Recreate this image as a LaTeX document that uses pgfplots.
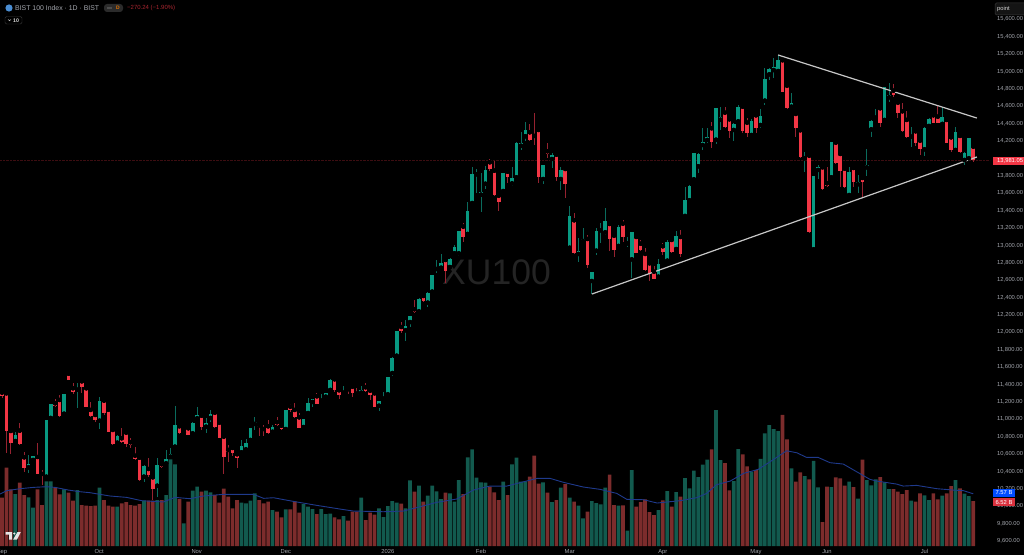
\documentclass[border=0pt]{standalone}
\usepackage{pgfplots}
\usepackage{pgfplotstable}
\usepackage{fontspec}
\setmainfont{Liberation Sans}
\pgfplotsset{compat=1.18}
\definecolor{upc}{HTML}{089981}
\definecolor{dnc}{HTML}{F23645}
\definecolor{upw}{HTML}{0A6B5D}
\definecolor{dnw}{HTML}{962230}
\definecolor{vup}{HTML}{125A4E}
\definecolor{vdn}{HTML}{7C2C2C}
\definecolor{vma}{HTML}{1F3A8C}
\definecolor{txt}{HTML}{A3A6AD}
\pgfplotstableread{
i o h l c v
0 11306 11317 11241 11271 7.00
1 11298 11306 10608 10865 11.35
2 10865 10865 10601 10723 8.21
3 10750 10857 10723 10819 7.53
4 10869 10953 10704 10716 9.18
5 10562 10627 10397 10436 7.39
6 10447 10589 10386 10482 7.05
7 10532 10578 10512 10578 5.55
8 10566 10723 10371 10371 8.21
9 10371 10417 10244 10363 5.94
10 10340 10992 10340 10992 9.37
11 11015 11176 10992 11176 9.37
12 11183 11229 11137 11153 8.50
13 11222 11279 11022 11034 7.49
14 11064 11287 11064 11287 8.21
15 11524 11524 11452 11452 7.73
16 11356 11421 11291 11317 6.57
17 11340 11413 11126 11356 8.11
18 11436 11452 11298 11367 5.94
19 11356 11356 11137 11137 5.84
20 11107 11202 11030 11038 5.80
21 11049 11049 10972 10995 5.84
22 10984 11252 10884 11214 8.45
23 11214 11229 11049 11068 6.67
24 11110 11110 10850 10850 5.84
25 10877 10877 10704 10716 5.70
26 10731 10819 10704 10804 5.70
27 10781 10896 10723 10742 6.18
28 10846 10857 10685 10716 6.38
29 10735 10781 10666 10708 5.94
30 10581 10685 10532 10543 5.84
31 10558 10578 10294 10306 6.09
32 10340 10474 10282 10459 6.57
33 10428 10551 10340 10355 6.57
34 10332 10340 10072 10198 6.57
35 10236 10551 10110 10474 6.67
36 10482 10512 10436 10451 6.67
37 10493 10647 10474 10539 7.39
38 10570 10666 10551 10601 12.56
39 10685 11153 10666 10934 11.83
40 10919 10934 10831 10838 6.81
41 10850 10869 10846 10865 3.28
42 10896 10915 10815 10823 6.42
43 10838 10972 10819 10961 8.02
44 11011 11145 11011 11053 8.60
45 11041 11049 10877 10907 7.87
46 10915 11011 10838 10961 8.02
47 11015 11107 10972 11064 7.78
48 11076 11076 10896 10915 7.39
49 10961 10961 10781 10781 6.28
50 10800 10808 10367 10570 8.31
51 10647 10704 10512 10627 7.15
52 10670 10685 10578 10608 5.46
53 10597 10597 10436 10555 6.67
54 10620 10762 10608 10693 6.28
55 10654 10769 10639 10723 6.18
56 10762 10900 10742 10896 6.57
57 10946 11030 10877 10972 7.63
58 10930 10930 10808 10911 6.67
59 10888 10934 10808 10880 6.18
60 10919 10992 10831 10838 6.42
61 10857 10934 10854 10911 5.22
62 10965 11022 10923 10934 4.97
63 10926 10934 10877 10888 4.15
64 10888 11110 10869 11110 5.31
65 11145 11176 11087 11107 5.31
66 11107 11191 11011 11022 6.47
67 11022 11068 10896 10903 4.83
68 10911 11003 10907 10999 6.09
69 11072 11241 11068 11183 5.70
70 11199 11237 11145 11229 5.36
71 11264 11306 11172 11179 4.64
72 11214 11287 11202 11222 5.36
73 11260 11306 11252 11306 4.64
74 11337 11459 11329 11448 4.69
75 11459 11459 11310 11337 4.15
76 11333 11356 11233 11275 3.86
77 11306 11383 11298 11325 4.35
78 11344 11344 11291 11333 3.67
79 11375 11390 11260 11298 4.97
80 11294 11356 11268 11279 4.97
81 11306 11383 11298 11333 7.00
82 11367 11413 11317 11325 3.77
83 11329 11329 11222 11279 4.83
84 11298 11298 11137 11137 4.54
85 11156 11210 11099 11210 5.46
86 11237 11310 11229 11252 4.20
87 11287 11490 11287 11490 5.80
88 11532 11712 11498 11701 6.52
89 11731 12019 11731 12019 6.28
90 12061 12115 11988 12015 6.13
91 12023 12141 11904 12076 5.46
92 12118 12187 12057 12187 9.52
93 12264 12372 12226 12237 7.87
94 12241 12391 12234 12379 8.74
95 12418 12441 12352 12356 6.42
96 12341 12468 12287 12452 7.29
97 12468 12659 12468 12659 8.74
98 12728 12832 12686 12736 7.92
99 12743 12901 12724 12797 6.81
100 12832 12832 12563 12709 7.73
101 12751 12851 12743 12843 7.63
102 12908 13004 12901 12981 6.42
103 12908 13169 12881 13169 9.56
104 13215 13253 13042 13096 7.53
105 13131 13502 13131 13399 12.85
106 13487 13897 13476 13821 14.01
107 13817 13874 13598 13836 9.90
108 13583 13828 13387 13610 9.23
109 13709 13913 13648 13867 9.18
110 13955 13989 13859 13874 8.60
111 13859 13974 13568 13579 7.78
112 13571 13579 13399 13502 6.67
113 13625 13836 13617 13828 9.32
114 13847 13867 13721 13782 7.39
115 13713 13905 13683 13775 11.83
116 13782 14185 13771 14173 12.80
117 14146 14307 14097 14173 9.32
118 14254 14422 14204 14330 9.37
119 14300 14396 14204 14215 10.05
120 14258 14518 14154 14250 13.09
121 14327 14327 13721 13790 9.03
122 13763 13924 13706 13924 9.23
123 14081 14181 14001 14047 7.73
124 13993 14058 13886 14039 6.38
125 14043 14043 13740 13790 6.67
126 13763 13897 13637 13867 8.45
127 13878 13886 13541 13706 8.98
128 12973 13453 12966 13338 7.00
129 13288 13368 12901 12916 6.42
130 12901 13081 12812 12935 5.84
131 13050 13196 13042 13069 4.01
132 13073 13119 12736 12778 4.97
133 12590 12694 12441 12694 6.52
134 12939 13196 12889 13169 6.23
135 13173 13261 13023 13192 6.04
136 13150 13426 13119 13276 8.45
137 13246 13246 12939 13073 10.34
138 13111 13111 12870 12947 5.94
139 12993 13234 12985 13211 5.84
140 13249 13292 13042 13100 5.89
141 13023 13100 12985 13039 2.22
142 12839 13157 12621 13157 11.01
143 13096 13108 12908 12916 5.70
144 13019 13062 12939 12950 6.38
145 12901 12966 12705 12713 6.76
146 12793 12793 12594 12667 4.93
147 12697 12763 12609 12617 4.49
148 12640 12839 12632 12782 5.22
149 12989 13023 12889 12924 6.62
150 12824 13062 12812 13042 7.97
151 13062 13069 12916 12927 5.70
152 12958 13169 12947 13104 7.82
153 13096 13177 12862 12904 7.15
154 13338 13675 13330 13522 9.85
155 13518 13694 13510 13682 8.36
156 13759 14066 13751 14062 10.92
157 13909 14058 13828 14047 10.00
158 14154 14346 14097 14192 11.79
159 14212 14346 14173 14242 12.51
160 14346 14415 14116 14185 14.01
161 14215 14583 14165 14583 19.71
162 14445 14595 14327 14472 12.46
163 14526 14587 14346 14357 12.03
164 14449 14480 14231 14315 8.07
165 14327 14411 14204 14396 9.42
166 14426 14614 14411 14587 14.06
167 14595 14595 14296 14315 13.28
168 14411 14461 14242 14296 11.54
169 14269 14449 14258 14434 10.77
170 14495 14518 14288 14353 11.01
171 14384 14564 14346 14488 12.65
172 14664 15036 14614 14909 16.33
173 14967 15036 14901 15028 17.53
174 15016 15151 14921 15051 16.95
175 15005 15193 14986 15128 16.66
176 15128 15128 14767 14767 19.03
177 14836 14836 14564 14576 15.46
178 14595 14748 14587 14633 11.25
179 14511 14526 14250 14353 9.32
180 14323 14323 14008 14016 10.67
181 14001 14077 13847 14005 10.14
182 14031 14039 13138 13150 9.66
183 12954 13798 12954 13798 12.36
184 13867 13924 13759 13897 8.50
185 13897 13905 13637 13648 3.48
186 13713 13905 13675 13683 8.60
187 13782 14189 13775 14189 8.55
188 14181 14192 13936 13947 9.95
189 14051 14051 13675 13859 9.80
190 13882 13882 13656 13675 8.74
191 13579 13905 13571 13847 9.32
192 13890 13905 13675 13725 8.55
193 13702 13809 13598 13732 6.86
194 13775 13775 13560 13729 12.51
195 13897 14112 13798 13928 9.56
196 14334 14442 14250 14434 8.79
197 14468 14564 14442 14480 9.66
198 14576 14576 14365 14403 10.00
199 14442 14817 14434 14817 9.23
200 14702 14863 14652 14729 8.26
201 14779 14855 14710 14725 8.26
202 14641 14641 14468 14526 7.87
203 14541 14633 14307 14319 7.53
204 14442 14549 14238 14250 8.11
205 14250 14365 14135 14265 6.57
206 14311 14311 14143 14173 6.42
207 14204 14204 14039 14104 7.63
208 14104 14365 14028 14346 7.34
209 14373 14461 14365 14449 6.67
210 14495 14511 14403 14411 7.63
211 14480 14614 14403 14411 6.76
212 14396 14587 14384 14480 7.29
213 14442 14442 14173 14181 7.63
214 14242 14250 14077 14097 8.69
215 14097 14365 14085 14307 9.56
216 14258 14258 14058 14074 8.36
217 13982 14077 13924 14066 7.58
218 14001 14238 13989 14238 7.25
219 14135 14135 13958 13981 6.52
}\data
\pgfplotsset{
  base/.style={
    at={(0pt,9pt)},anchor=south west,scale only axis,width=990pt,height=546pt,
    xmin=-0.451,xmax=222.77,
    axis line style={draw=none},tick style={draw=none},
    major tick length=0pt,
    unbounded coords=discard,
  },
  wick/.style={only marks,mark=none,forget plot,
    error bars/.cd,y dir=both,y explicit,error mark=none,
    error bar style={line width=0.8pt,draw=#1}},
  body/.style={only marks,mark=none,forget plot,
    error bars/.cd,y dir=both,y explicit,error mark=none,
    error bar style={line width=3.6pt,draw=#1}},
}
\begin{document}
\begin{tikzpicture}[x=1pt,y=1pt]
\path[use as bounding box] (0,0) rectangle (1024,555);
\fill[black] (0,0) rectangle (1024,555);
\clip (0,0) rectangle (1024,555);
\node[font=\fontsize{35.5}{36}\selectfont,text=white!14!black] at (496.5,282.5) {XU100};
% volume
\begin{axis}[base,ymin=0,ymax=79.17,xtick=\empty,ytick=\empty]
\addplot[ybar,bar width=3.7pt,bar shift=0pt,fill=vup,draw=none,forget plot]
  table[x=i,y expr={\thisrow{c}>=\thisrow{o}?\thisrow{v}:nan}]{\data};
\addplot[ybar,bar width=3.7pt,bar shift=0pt,fill=vdn,draw=none,forget plot]
  table[x=i,y expr={\thisrow{c}<\thisrow{o}?\thisrow{v}:nan}]{\data};
\addplot[vma,line width=0.9pt,forget plot] coordinates {
(-0.45,7.53)(1.05,8.02)(4.06,8.31)(7.07,8.50)(10.08,8.60)(11.96,8.50)(14.96,8.11)(17.6,7.87)(19.85,7.73)(24.36,7.25)(28.1,7.05)(31.5,6.57)(36.4,6.38)(39,7.05)(42.4,6.86)(45.4,7.25)(49.9,7.49)(56.7,7.49)(59,6.91)(61.2,7.00)(65.7,6.47)(71,5.89)(76.2,5.36)(79.2,5.07)(86,4.97)(90.5,5.07)(94.3,5.70)(98,6.33)(102.5,6.81)(106.3,8.11)(110,8.69)(113.8,8.69)(116.8,9.18)(120.6,9.80)(123.6,9.80)(126.6,9.23)(131.1,8.55)(134.9,8.21)(138.6,7.63)(140.9,6.76)(144.7,6.71)(147.7,6.23)(152.9,6.57)(156.6,7.00)(158.9,7.63)(161.1,8.89)(164.2,9.42)(167.2,10.53)(170.5,11.11)(173.2,12.22)(176.9,13.81)(179.2,13.52)(181.4,12.85)(184,12.85)(186.7,12.08)(189.7,11.88)(192.7,10.77)(195.7,9.66)(197.2,9.42)(201.7,8.98)(203.2,8.69)(206.2,8.79)(210.8,8.31)(214.5,8.11)(216.8,8.02)(219,7.57)};
\end{axis}
% price
\begin{axis}[base,ymin=9542.5,ymax=15821.5,
  scaled y ticks=false,
  xtick={0,21.9,43.9,64,87,108,128,149,170,186,208},
  xticklabels={Sep,Oct,Nov,Dec,2026,Feb,Mar,Apr,May,Jun,Jul},
  xticklabel style={font=\fontsize{5.8}{6}\selectfont,text=txt,inner sep=0pt,anchor=north,yshift=-3.3pt},
  ytick={9600,9800,10000,10200,10400,10600,10800,11000,11200,11400,11600,11800,12000,12200,12400,12600,12800,13000,13200,13400,13600,13800,14200,14400,14600,14800,15000,15200,15400,15600},
  yticklabel pos=right,
  yticklabel style={font=\fontsize{5.8}{6}\selectfont,text=txt,inner sep=0pt,anchor=west,xshift=7pt,
    /pgf/number format/fixed,/pgf/number format/fixed zerofill,/pgf/number format/precision=2,/pgf/number format/1000 sep={,},/pgf/number format/assume math mode=true},
]
\addplot[densely dotted,line width=0.4pt,color=dnc!25!black,forget plot] coordinates {(-0.45,13981)(222.77,13981)};
\addplot[wick=upw] table[x=i,y expr={\thisrow{c}>=\thisrow{o}?\thisrow{o}:nan},
  y error plus expr=\thisrow{h}-\thisrow{o},y error minus expr=\thisrow{o}-\thisrow{l}]{\data};
\addplot[wick=dnw] table[x=i,y expr={\thisrow{c}<\thisrow{o}?\thisrow{o}:nan},
  y error plus expr=\thisrow{h}-\thisrow{o},y error minus expr=\thisrow{o}-\thisrow{l}]{\data};
\addplot[body=upc] table[x=i,y expr={\thisrow{c}>=\thisrow{o}?\thisrow{o}:nan},
  y error plus expr=\thisrow{c}-\thisrow{o},y error minus expr=0]{\data};
\addplot[body=dnc] table[x=i,y expr={\thisrow{c}<\thisrow{o}?\thisrow{o}:nan},
  y error plus expr=0,y error minus expr=\thisrow{o}-\thisrow{c}]{\data};
\addplot[color=black!22!white,line width=1.2pt,forget plot] coordinates {(133,12440)(219.8,14016)};
\addplot[color=black!22!white,line width=1.2pt,forget plot] coordinates {(175,15189)(219.8,14464)};
\end{axis}
% price tags
\fill[dnc] (993,389.7) rectangle (1024,397.7);
\node[anchor=west,inner sep=0pt,text=white,font=\fontsize{5.8}{6}\selectfont] at (997,393.7) {13,981.05};
\fill[blue!70!cyan] (993,58) rectangle (1015,66);
\node[anchor=center,inner sep=0pt,text=white,font=\fontsize{5.8}{6}\selectfont] at (1004,62) {7.57 B};
\fill[dnc!90!black] (993,49) rectangle (1015,57);
\node[anchor=center,inner sep=0pt,text=white,font=\fontsize{5.8}{6}\selectfont] at (1004,53) {6.52 B};
% scale box
\draw[rounded corners=1.5pt,draw=white!22!black,fill=white!8!black,line width=0.5pt] (995,540) rectangle (1030,552);
\node[anchor=west,inner sep=0pt,text=white!85!black,font=\fontsize{5.8}{6}\selectfont] at (997,546) {point};
% header
\fill[cyan!55!blue!75!white] (9,547) circle (3.6);
\node[anchor=west,inner sep=0pt,text=txt,font=\fontsize{6.9}{7}\selectfont] at (15,547) {BIST 100 Index · 1D · BIST};
\fill[white!17!black,rounded corners=3pt] (104,543) rectangle (123,551);
\fill[white!30!black] (107,546.3) rectangle (111.5,547.7);
\node[inner sep=0pt,text=orange!90!black,font=\bfseries\fontsize{5}{6}\selectfont] at (118,547) {D};
\node[anchor=west,inner sep=0pt,text=dnc!70!black,font=\fontsize{6}{7}\selectfont] at (127,547) {−270.24 (−1.90\%)};
\draw[rounded corners=1.5pt,draw=white!22!black,line width=0.4pt] (5,531) rectangle (22,538.5);
\draw[white!75!black,line width=0.5pt] (8,535.6) -- (9.5,534.2) -- (11,535.6);
\node[anchor=west,inner sep=0pt,text=white!85!black,font=\bfseries\fontsize{5.2}{6}\selectfont] at (13,534.7) {10};
% logo
\fill[white!90!black] (5.5,23) -- (12.2,23) -- (12.2,15.5) -- (9.2,15.5) -- (9.2,20.5) -- (5.5,20.5) -- cycle;
\fill[white!90!black] (14.3,21.5) circle (1.2);
\fill[white!90!black] (17.5,23) -- (20.8,23) -- (17,15.5) -- (13.2,15.5) -- cycle;
\end{tikzpicture}
\end{document}
